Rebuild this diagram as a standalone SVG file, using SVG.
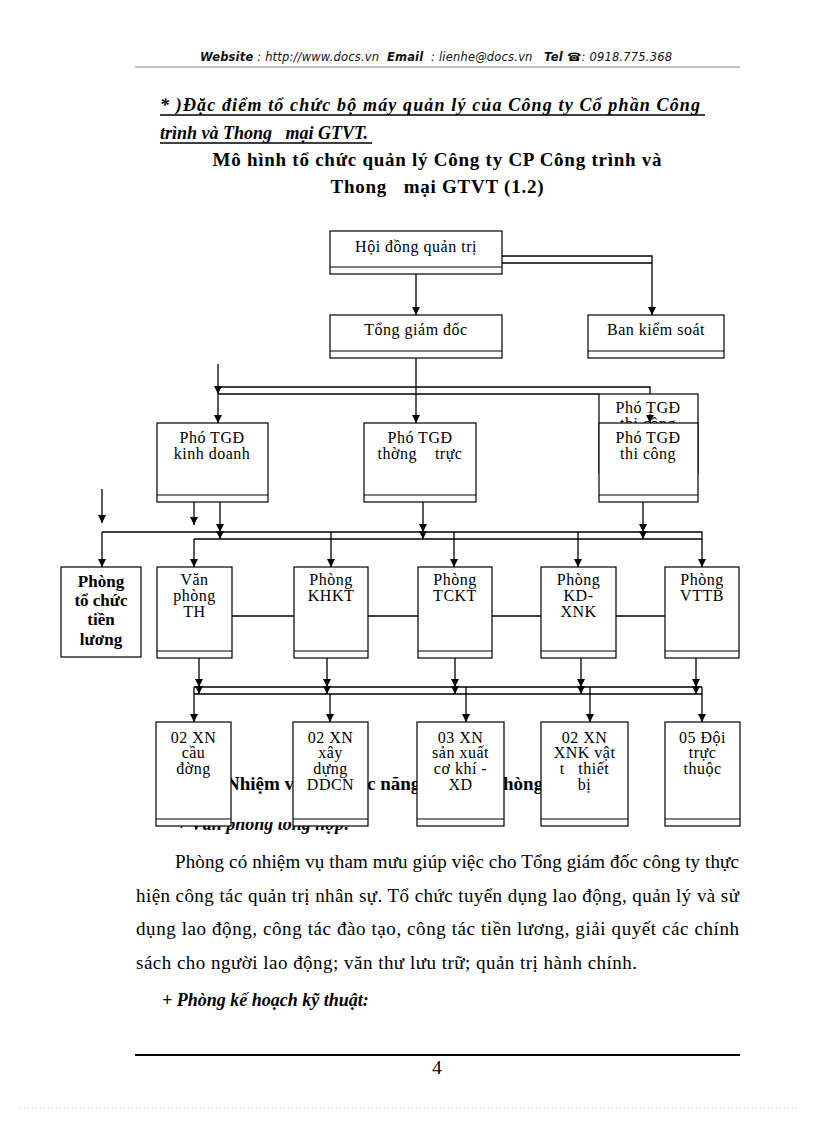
<svg xmlns="http://www.w3.org/2000/svg" width="816" height="1123" viewBox="0 0 816 1123">
<defs>
<marker id="ah" markerWidth="8" markerHeight="8" refX="8" refY="4" orient="auto" markerUnits="userSpaceOnUse">
<path d="M0,0 L8,4 L0,8 Z" fill="#000"/>
</marker>
<clipPath id="cutTop"><rect x="0" y="822" width="816" height="40"/></clipPath>
<clipPath id="backClip"><rect x="590" y="390" width="120" height="33"/></clipPath>
<style>
.box{fill:#fff;stroke:#000;stroke-width:1.2}
.strip{stroke:#000;stroke-width:1;fill:none}
.lbl{font-family:"Liberation Serif","Times New Roman",serif;font-size:16px;letter-spacing:0.5px;text-anchor:middle;fill:#000}
.blbl{font-family:"Liberation Serif","Times New Roman",serif;font-size:17px;font-weight:bold;text-anchor:middle;fill:#000}
.conn{stroke:#000;stroke-width:1.3;fill:none}
.arr{marker-end:url(#ah)}
.arr2{marker-mid:url(#ah);marker-end:url(#ah)}
.body{font-family:"Liberation Serif","Times New Roman",serif;font-size:19px;fill:#000}
.bi{font-family:"Liberation Serif","Times New Roman",serif;font-size:18px;font-weight:bold;font-style:italic;fill:#000}
.hd{font-family:"DejaVu Sans","Verdana",sans-serif;font-size:11.5px;font-style:italic;fill:#111}
</style>
</defs>
<rect width="816" height="1123" fill="#fff"/>

<!-- header -->
<text class="hd" x="200" y="61" xml:space="preserve" textLength="472" lengthAdjust="spacing"><tspan font-weight="bold">Website</tspan> : http://www.docs.vn  <tspan font-weight="bold">Email</tspan>  : lienhe@docs.vn   <tspan font-weight="bold">Tel ☎</tspan>: 0918.775.368</text>
<line x1="135" y1="67" x2="740" y2="67" stroke="#888" stroke-width="1"/>

<!-- titles -->
<text class="bi" x="160" y="111" textLength="540" lengthAdjust="spacing">* )Đặc điểm tổ chức bộ máy quản lý của Công ty Cổ phần Công</text>
<line x1="160" y1="115" x2="705" y2="115" stroke="#000" stroke-width="1.5"/>
<text class="bi" x="160" y="139" xml:space="preserve">trình và Thong   mại GTVT.</text>
<line x1="160" y1="143" x2="372" y2="143" stroke="#000" stroke-width="1.5"/>
<text class="body" font-weight="bold" font-size="19.5" x="437" y="166" text-anchor="middle" textLength="449" lengthAdjust="spacing">Mô hình tổ chức quản lý Công ty CP Công trình và</text>
<text class="body" font-weight="bold" font-size="19.5" x="437" y="193" text-anchor="middle" xml:space="preserve" textLength="213" lengthAdjust="spacing">Thong   mại GTVT (1.2)</text>

<!-- text partly hidden behind the lower boxes -->
<text class="body" font-weight="bold" font-size="18" y="790"><tspan x="226">Nhiệm v</tspan><tspan x="367">c năng</tspan><tspan x="503">hòng</tspan></text>
<text class="bi" font-size="17" x="176" y="830" clip-path="url(#cutTop)">+ Văn phòng tổng hợp:</text>

<!-- nodes -->
<g id="hdqt"><rect class="box" x="330" y="231" width="172" height="43"/><line class="strip" x1="330" y1="267" x2="502" y2="267"/><text class="lbl" x="416" y="252">Hội đồng quản trị</text></g>
<g id="tgd"><rect class="box" x="330" y="315" width="172" height="43"/><line class="strip" x1="330" y1="351" x2="502" y2="351"/><text class="lbl" x="416" y="335">Tổng giám đốc</text></g>
<g id="bks"><rect class="box" x="588" y="315" width="136" height="43"/><line class="strip" x1="588" y1="351" x2="724" y2="351"/><text class="lbl" x="656" y="335">Ban kiểm soát</text></g>

<g id="pkd"><rect class="box" x="157" y="423" width="111" height="79"/><line class="strip" x1="157" y1="495" x2="268" y2="495"/><text class="lbl" x="212" y="443">Phó TGĐ</text><text class="lbl" x="212" y="459">kinh doanh</text></g>
<g id="ptt"><rect class="box" x="364" y="423" width="112" height="79"/><line class="strip" x1="364" y1="495" x2="476" y2="495"/><text class="lbl" x="420" y="443">Phó TGĐ</text><text class="lbl" x="420" y="459" xml:space="preserve">thờng    trực</text></g>
<g id="ptc-back"><rect class="box" x="599" y="394" width="99" height="79"/><g clip-path="url(#backClip)"><text class="lbl" x="648" y="413">Phó TGĐ</text><text class="lbl" x="648" y="429">thi công</text></g></g>
<g id="ptc"><rect class="box" x="599" y="423" width="99" height="79"/><line class="strip" x1="599" y1="495" x2="698" y2="495"/><text class="lbl" x="648" y="443">Phó TGĐ</text><text class="lbl" x="648" y="459">thi công</text></g>

<g id="ptctl"><rect class="box" x="61" y="567" width="80" height="90"/><text class="blbl" x="101" y="587">Phòng</text><text class="blbl" x="101" y="606">tổ chức</text><text class="blbl" x="101" y="625">tiền</text><text class="blbl" x="101" y="645">lương</text></g>
<g id="vpth"><rect class="box" x="157" y="567" width="75" height="91"/><line class="strip" x1="157" y1="651" x2="232" y2="651"/><text class="lbl" x="194.5" y="585">Văn</text><text class="lbl" x="194.5" y="601">phòng</text><text class="lbl" x="194.5" y="617">TH</text></g>
<g id="khkt"><rect class="box" x="294" y="567" width="74" height="91"/><line class="strip" x1="294" y1="651" x2="368" y2="651"/><text class="lbl" x="331" y="585">Phòng</text><text class="lbl" x="331" y="601">KHKT</text></g>
<g id="tckt"><rect class="box" x="418" y="567" width="74" height="91"/><line class="strip" x1="418" y1="651" x2="492" y2="651"/><text class="lbl" x="455" y="585">Phòng</text><text class="lbl" x="455" y="601">TCKT</text></g>
<g id="kdxnk"><rect class="box" x="541" y="567" width="75" height="91"/><line class="strip" x1="541" y1="651" x2="616" y2="651"/><text class="lbl" x="578.5" y="585">Phòng</text><text class="lbl" x="578.5" y="601">KD-</text><text class="lbl" x="578.5" y="617">XNK</text></g>
<g id="vttb"><rect class="box" x="665" y="567" width="74" height="91"/><line class="strip" x1="665" y1="651" x2="739" y2="651"/><text class="lbl" x="702" y="585">Phòng</text><text class="lbl" x="702" y="601">VTTB</text></g>

<g id="xn1"><rect class="box" x="156" y="722" width="75" height="104"/><line class="strip" x1="156" y1="819" x2="231" y2="819"/><text class="lbl" x="193.5" y="743">02 XN</text><text class="lbl" x="193.5" y="758">cầu</text><text class="lbl" x="193.5" y="774">đờng</text></g>
<g id="xn2"><rect class="box" x="293" y="722" width="75" height="104"/><line class="strip" x1="293" y1="819" x2="368" y2="819"/><text class="lbl" x="330.5" y="743">02 XN</text><text class="lbl" x="330.5" y="758">xây</text><text class="lbl" x="330.5" y="774">dựng</text><text class="lbl" x="330.5" y="790">DDCN</text></g>
<g id="xn3"><rect class="box" x="417" y="722" width="87" height="104"/><line class="strip" x1="417" y1="819" x2="504" y2="819"/><text class="lbl" x="460.5" y="743">03 XN</text><text class="lbl" x="460.5" y="758">sản xuất</text><text class="lbl" x="460.5" y="774">cơ khí -</text><text class="lbl" x="460.5" y="790">XD</text></g>
<g id="xn4"><rect class="box" x="541" y="722" width="87" height="104"/><line class="strip" x1="541" y1="819" x2="628" y2="819"/><text class="lbl" x="584.5" y="743">02 XN</text><text class="lbl" x="584.5" y="758">XNK vật</text><text class="lbl" x="584.5" y="774" xml:space="preserve">t   thiết</text><text class="lbl" x="584.5" y="790">bị</text></g>
<g id="doi"><rect class="box" x="665" y="722" width="75" height="104"/><line class="strip" x1="665" y1="819" x2="740" y2="819"/><text class="lbl" x="702.5" y="743">05 Đội</text><text class="lbl" x="702.5" y="758">trực</text><text class="lbl" x="702.5" y="774">thuộc</text></g>

<!-- connectors -->
<g id="connectors">
<path class="conn arr" d="M416,274 V315"/>
<path class="conn arr" d="M502,256 H652 V315"/>
<path class="conn" d="M502,263 H652"/>
<path class="conn arr" d="M416,358 V423"/>
<path class="conn arr2" d="M218,364 V394 V423"/>
<path class="conn" d="M218,387 H650 V394"/>
<path class="conn arr" d="M650,414 V423"/>
<path class="conn" d="M218,394 H599"/>

<path class="conn arr" d="M102,489 V523"/>
<path class="conn arr" d="M194,502 V525"/>
<path class="conn arr2" d="M220,502 V532 V539"/>
<path class="conn arr2" d="M423,502 V532 V539"/>
<path class="conn arr2" d="M643,502 V532 V539"/>
<path class="conn arr" d="M102,532 H702 V567"/>
<path class="conn" d="M194,539 H702"/>
<path class="conn arr" d="M102,532 V567"/>
<path class="conn arr" d="M194,539 V567"/>
<path class="conn arr" d="M331,532 V567"/>
<path class="conn arr" d="M454,532 V567"/>
<path class="conn arr" d="M578,532 V567"/>

<path class="conn" d="M232,616 H294 M368,616 H418 M492,616 H541 M616,616 H665"/>

<path class="conn arr2" d="M199,658 V687 V694"/>
<path class="conn arr2" d="M327,658 V687 V694"/>
<path class="conn arr2" d="M455,658 V687 V694"/>
<path class="conn arr2" d="M581,658 V687 V694"/>
<path class="conn arr2" d="M696,658 V687 V694"/>
<path class="conn" d="M194,687 H702 M194,694 H702"/>
<path class="conn arr" d="M194,687 V722"/>
<path class="conn arr" d="M702,687 V722"/>
<path class="conn arr" d="M330,694 V722"/>
<path class="conn arr" d="M466,687 V722"/>
<path class="conn arr" d="M590,687 V722"/>
</g>

<!-- body text -->
<text class="body" x="175" y="868" textLength="564" lengthAdjust="spacing">Phòng có nhiệm vụ tham mưu giúp việc cho Tổng giám đốc công ty thực</text>
<text class="body" x="136" y="902" textLength="603" lengthAdjust="spacing">hiện  công tác quản trị nhân sự. Tổ chức tuyển dụng lao động, quản lý và sử</text>
<text class="body" x="136" y="935" textLength="603" lengthAdjust="spacing">dụng lao động, công tác đào tạo, công tác tiền lương, giải quyết các chính</text>
<text class="body" x="136" y="969" textLength="501" lengthAdjust="spacing">sách cho người lao động; văn thư lưu trữ; quản trị hành chính.</text>
<text class="bi" font-size="16.5" x="162" y="1006">+ Phòng kế hoạch kỹ thuật:</text>

<line x1="135" y1="1055" x2="740" y2="1055" stroke="#000" stroke-width="2"/>
<text class="body" x="437" y="1074" text-anchor="middle">4</text>
<line x1="20" y1="1108" x2="800" y2="1108" stroke="#ccc" stroke-width="1" stroke-dasharray="1 3"/>
</svg>
